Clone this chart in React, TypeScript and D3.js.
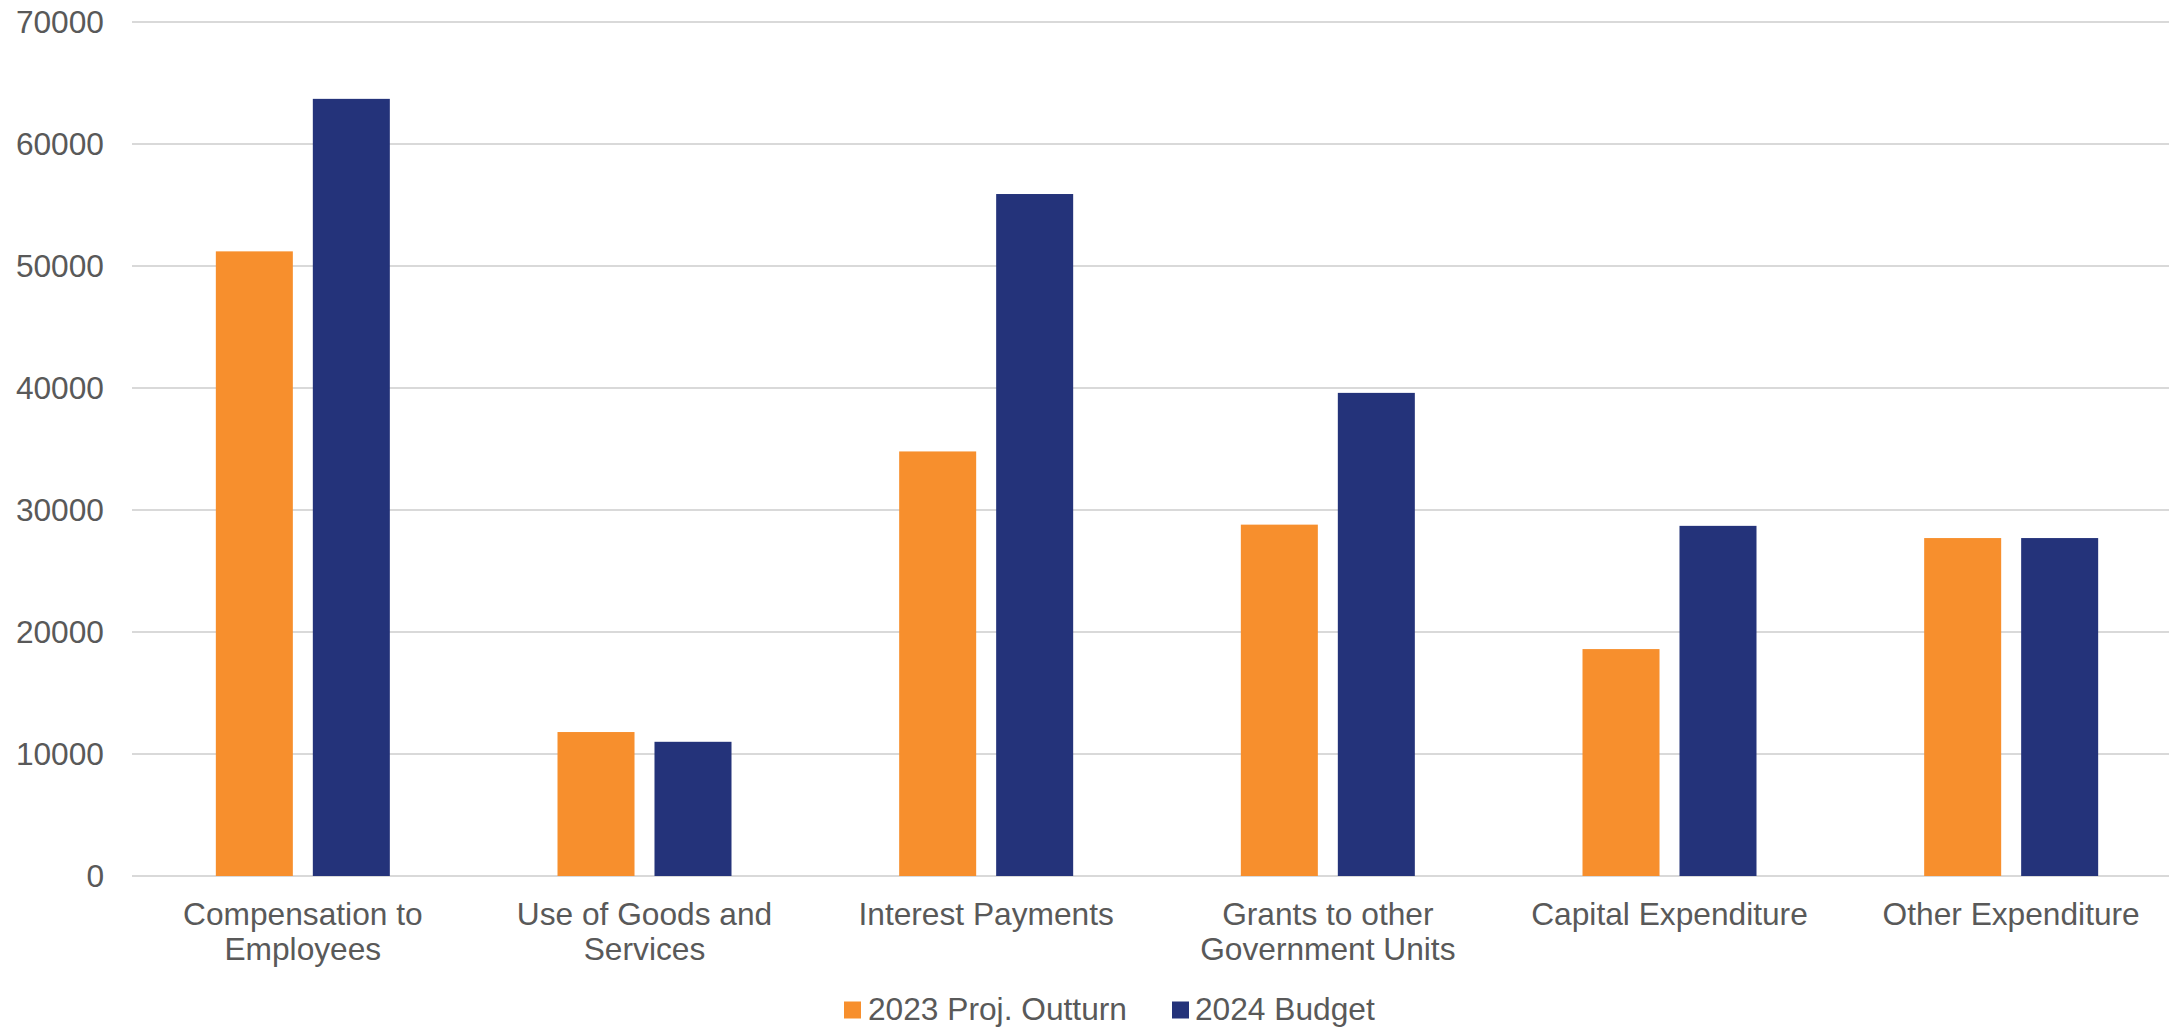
import React from "react";
import * as d3 from "d3";

const categories: string[][] = [
  ["Compensation to", "Employees"],
  ["Use of Goods and", "Services"],
  ["Interest Payments"],
  ["Grants to other", "Government Units"],
  ["Capital Expenditure"],
  ["Other Expenditure"],
];
const seriesNames = ["2023 Proj. Outturn", "2024 Budget"];
const outturn2023 = [51200, 11800, 34800, 28800, 18600, 27700];
const budget2024 = [63700, 11000, 55900, 39600, 28700, 27700];
const yTicks = [0, 10000, 20000, 30000, 40000, 50000, 60000, 70000];
const colors = ["#F78F2D", "#24337A"];

const W = 2169;
const H = 1029;
const FONT = "'Liberation Sans', Arial, sans-serif";
const TEXT = "#595959";

export default function App() {
  const catKeys = categories.map((c) => c.join(" "));
  const x0 = d3.scaleBand<string>().domain(catKeys).range([132, 2182]).padding(0);
  const groupW = 174;
  const x1 = d3
    .scaleBand<string>()
    .domain(seriesNames)
    .range([0, groupW])
    .paddingInner(0.206)
    .paddingOuter(0);
  const y = d3.scaleLinear().domain([0, 70000]).range([876, 22]);
  const data = [outturn2023, budget2024];
  const fs = 31.7;

  return (
    <svg
      width={W}
      height={H}
      style={{ position: "absolute", left: 0, top: 0, background: "#fff" }}
    >
      <rect x={0} y={0} width={W} height={H} fill="#fff" />
      {yTicks.map((t) => (
        <g key={t}>
          <line x1={132} x2={W} y1={y(t)} y2={y(t)} stroke="#D9D9D9" strokeWidth={2} />
          <text
            x={104}
            y={y(t)}
            dy="0.36em"
            textAnchor="end"
            fontFamily={FONT}
            fontSize={fs}
            fill={TEXT}
          >
            {t}
          </text>
        </g>
      ))}
      {catKeys.map((k, i) => {
        const gx = (x0(k) as number) + (x0.bandwidth() - groupW) / 2;
        return (
          <g key={k}>
            {seriesNames.map((s, j) => (
              <rect
                key={s}
                x={gx + (x1(s) as number)}
                y={y(data[j][i])}
                width={x1.bandwidth()}
                height={y(0) - y(data[j][i])}
                fill={colors[j]}
              />
            ))}
            <text
              textAnchor="middle"
              fontFamily={FONT}
              fontSize={fs}
              fill={TEXT}
            >
              {categories[i].map((line, li) => (
                <tspan key={li} x={(x0(k) as number) + x0.bandwidth() / 2} y={925 + li * 35}>
                  {line}
                </tspan>
              ))}
            </text>
          </g>
        );
      })}
      <g>
        <rect x={844} y={1001.5} width={17} height={17} fill={colors[0]} />
        <text x={868} y={1020} fontFamily={FONT} fontSize={fs} fill={TEXT}>
          {seriesNames[0]}
        </text>
        <rect x={1172} y={1001.5} width={17} height={17} fill={colors[1]} />
        <text x={1195} y={1020} fontFamily={FONT} fontSize={fs} fill={TEXT}>
          {seriesNames[1]}
        </text>
      </g>
    </svg>
  );
}
